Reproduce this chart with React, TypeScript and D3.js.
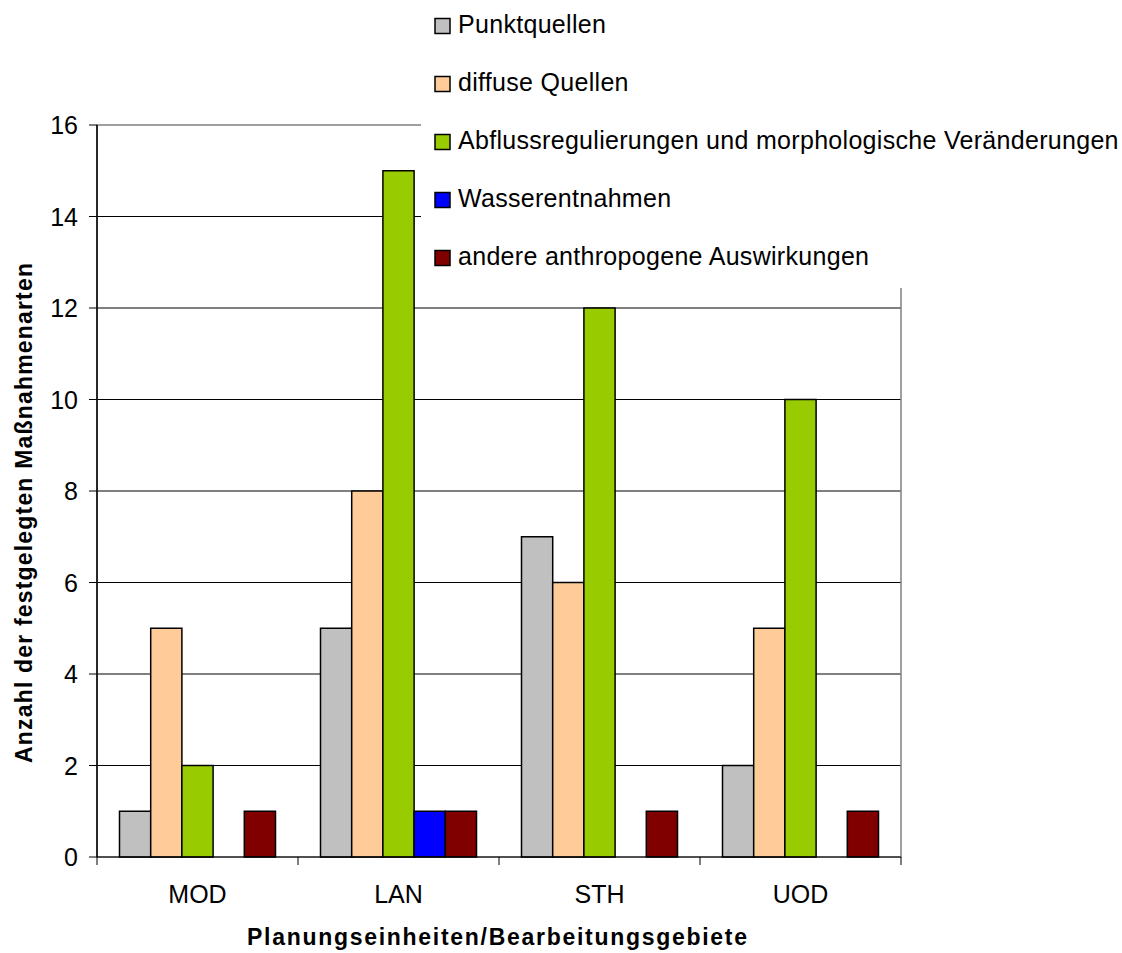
import React from 'react';
import * as d3 from 'd3';

const categories = ['MOD', 'LAN', 'STH', 'UOD'];
const seriesNames = [
  'Punktquellen',
  'diffuse Quellen',
  'Abflussregulierungen und morphologische Veränderungen',
  'Wasserentnahmen',
  'andere anthropogene Auswirkungen',
];
const seriesColors = ['#C0C0C0', '#FFCC99', '#99CC00', '#0000FF', '#800000'];
const punktquellen = [1, 5, 7, 2];
const diffuseQuellen = [5, 8, 6, 5];
const abfluss = [2, 15, 12, 10];
const wasserentnahmen = [0, 1, 0, 0];
const andere = [1, 1, 1, 1];
const yTicks = [0, 2, 4, 6, 8, 10, 12, 14, 16];

const seriesValues = [punktquellen, diffuseQuellen, abfluss, wasserentnahmen, andere];

const W = 1122;
const H = 953;
const plot = { left: 97, right: 901, top: 125, bottom: 857 };
const legendBox = { x: 421, y: 0, w: 701, h: 288 };
const font = 'Arial, "Liberation Sans", sans-serif';

export default function App() {
  const x = d3.scaleBand<string>().domain(categories).range([plot.left, plot.right]);
  const bandInner = 156; // 5 bars of ~31px
  const xs = d3.scaleBand<number>()
    .domain(d3.range(seriesNames.length))
    .range([0, bandInner]);
  const pad = (x.bandwidth() - bandInner) / 2;
  const y = d3.scaleLinear().domain([0, 16]).range([plot.bottom, plot.top]);

  const bounds = [...categories.map(c => x(c) as number), plot.right];

  return (
    <svg width={W} height={H} style={{ position: 'absolute', left: 0, top: 0 }} fontFamily={font}>
      <rect width={W} height={H} fill="#fff" />

      {/* gridlines */}
      {yTicks.filter(t => t > 0 && t < 16).map(t => (
        <line key={t} x1={plot.left} x2={plot.right} y1={y(t)} y2={y(t)} stroke="#000" strokeWidth={1} />
      ))}
      {/* plot border */}
      <rect x={plot.left} y={plot.top} width={plot.right - plot.left} height={plot.bottom - plot.top}
        fill="none" stroke="#808080" strokeWidth={1.5} />

      {/* bars */}
      {seriesValues.map((vals, si) => (
        <g key={si}>
          {categories.map((c, ci) => vals[ci] > 0 ? (
            <rect key={c}
              x={(x(c) as number) + pad + (xs(si) as number)}
              y={y(vals[ci])}
              width={xs.bandwidth()}
              height={y(0) - y(vals[ci])}
              fill={seriesColors[si]} stroke="#000" strokeWidth={1.5} />
          ) : null)}
        </g>
      ))}

      {/* y axis */}
      <line x1={plot.left} x2={plot.left} y1={plot.top} y2={plot.bottom} stroke="#000" strokeWidth={1.5} />
      {yTicks.map(t => (
        <g key={t}>
          <line x1={plot.left - 8} x2={plot.left} y1={y(t)} y2={y(t)} stroke="#000" strokeWidth={1} />
          <text x={78} y={y(t)} dy="0.36em" textAnchor="end" fontSize={25}>{t}</text>
        </g>
      ))}

      {/* x axis */}
      <line x1={plot.left} x2={plot.right} y1={plot.bottom} y2={plot.bottom} stroke="#000" strokeWidth={1} />
      {bounds.map((b, i) => (
        <line key={i} x1={b} x2={b} y1={plot.bottom} y2={plot.bottom + 8} stroke="#000" strokeWidth={1} />
      ))}
      {categories.map(c => (
        <text key={c} x={(x(c) as number) + x.bandwidth() / 2} y={903} textAnchor="middle" fontSize={25}>{c}</text>
      ))}

      {/* axis titles */}
      <text x={497} y={945} textAnchor="middle" fontSize={23} fontWeight="bold"
        textLength={500} lengthAdjust="spacing">Planungseinheiten/Bearbeitungsgebiete</text>
      <text transform="translate(32,513) rotate(-90)" textAnchor="middle" fontSize={23} fontWeight="bold"
        textLength={500} lengthAdjust="spacing">Anzahl der festgelegten Maßnahmenarten</text>

      {/* legend */}
      <rect x={legendBox.x} y={legendBox.y} width={legendBox.w} height={legendBox.h} fill="#fff" />
      {seriesNames.map((n, i) => {
        const cy = 26 + i * 58;
        return (
          <g key={n}>
            <rect x={435} y={cy - 7.5} width={15} height={15} fill={seriesColors[i]} stroke="#000" strokeWidth={1.5} />
            <text x={458} y={cy + 7} fontSize={25} letterSpacing={0.3}>{n}</text>
          </g>
        );
      })}
    </svg>
  );
}
